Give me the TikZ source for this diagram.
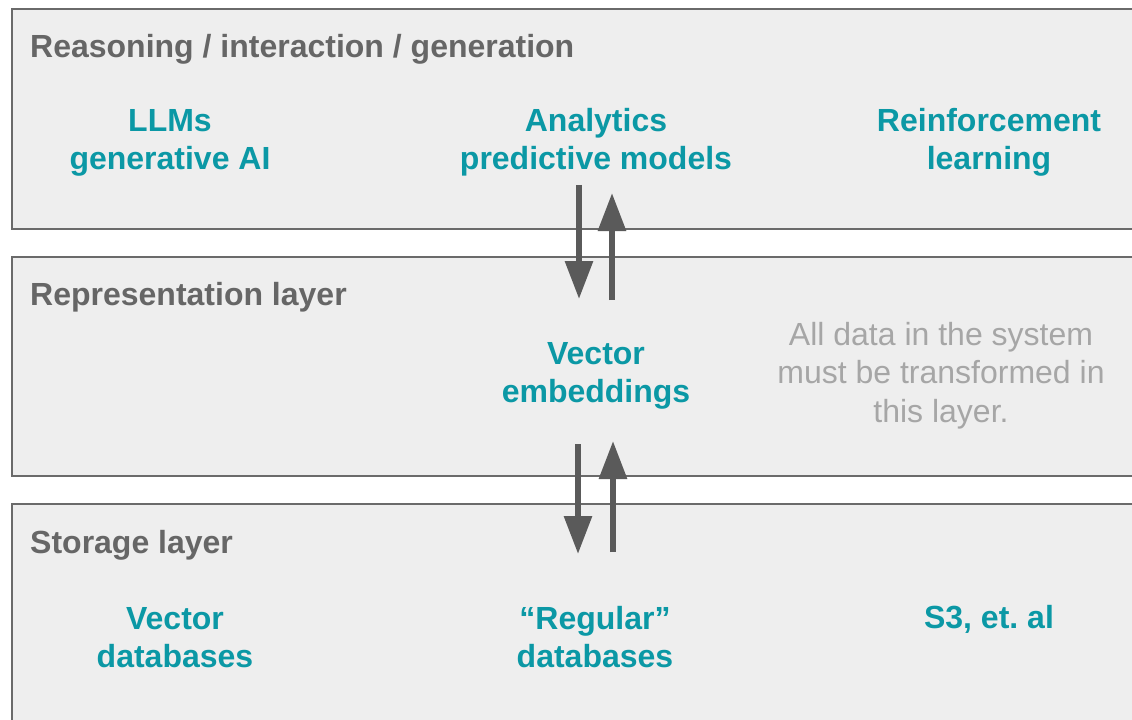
\documentclass[tikz,border=0pt]{standalone}
\usepackage{fontspec}
\setmainfont{Liberation Sans}
\usetikzlibrary{arrows.meta}
\frenchspacing
\definecolor{layerfill}{HTML}{EEEEEE}
\definecolor{layerline}{HTML}{6A6A6A}
\definecolor{titlegray}{HTML}{666666}
\definecolor{accentteal}{HTML}{0B98A5}
\definecolor{notegray}{HTML}{A6A6A6}
\definecolor{arrowgray}{HTML}{5A5A5A}
\tikzset{
  layer/.style={draw=layerline, line width=2bp, fill=layerfill},
  layertitle/.style={anchor=base west, inner sep=0pt, text=titlegray,
    font=\fontsize{32bp}{38bp}\selectfont\bfseries},
  item/.style={anchor=base, inner sep=0pt, align=center, text=accentteal,
    font=\fontsize{32bp}{38bp}\selectfont\bfseries},
  note/.style={anchor=base, inner sep=0pt, align=center, text=notegray,
    font=\fontsize{32bp}{38.5bp}\selectfont},
  flow/.style={draw=arrowgray, line width=6bp,
    -{Triangle[width=27bp, length=38bp]}},
}
\begin{document}
\begin{tikzpicture}[x=1bp, y=-1bp]
  \useasboundingbox (0,0) rectangle (1132,720);
  \clip (0,0) rectangle (1132,720);

  % three stacked layers, running off the right and bottom edges
  \draw[layer] (12,9)   rectangle (1150,229);
  \draw[layer] (12,257) rectangle (1150,476);
  \draw[layer] (12,504) rectangle (1150,740);

  % layer titles
  \node[layertitle] (reasoning) at (30,58)  {Reasoning / interaction / generation};
  \node[layertitle] (represent) at (30,305) {Representation layer};
  \node[layertitle] (storage)   at (30,553) {Storage layer};

  % reasoning layer contents (anchored on the last line's baseline)
  \node[item] (llm)       at (170,170) {LLMs\\generative AI};
  \node[item] (analytics) at (596,170) {Analytics\\predictive models};
  \node[item] (rl)        at (989,170) {Reinforcement\\learning};

  % representation layer contents
  \node[item] (vec)  at (596,402) {Vector\\embeddings};
  \node[note] (note) at (941,422) {All data in the system\\must be transformed in\\this layer.};

  % storage layer contents
  \node[item] (vdb) at (175,667) {Vector\\databases};
  \node[item] (rdb) at (595,667) {\textquotedblleft Regular\textquotedblright\\databases};
  \node[item] (s3)  at (989,628) {S3, et. al};

  % arrow end points between the layers
  \coordinate (downAtop) at (579,185);
  \coordinate (downAbot) at (579,299);
  \coordinate (upAbot)   at (612,300);
  \coordinate (upAtop)   at (612,193);
  \coordinate (downBtop) at (578,444);
  \coordinate (downBbot) at (578,554);
  \coordinate (upBbot)   at (613,552);
  \coordinate (upBtop)   at (613,441);

  \draw[flow] (downAtop) -- (downAbot);
  \draw[flow] (upAbot)   -- (upAtop);
  \draw[flow] (downBtop) -- (downBbot);
  \draw[flow] (upBbot)   -- (upBtop);
\end{tikzpicture}
\end{document}
